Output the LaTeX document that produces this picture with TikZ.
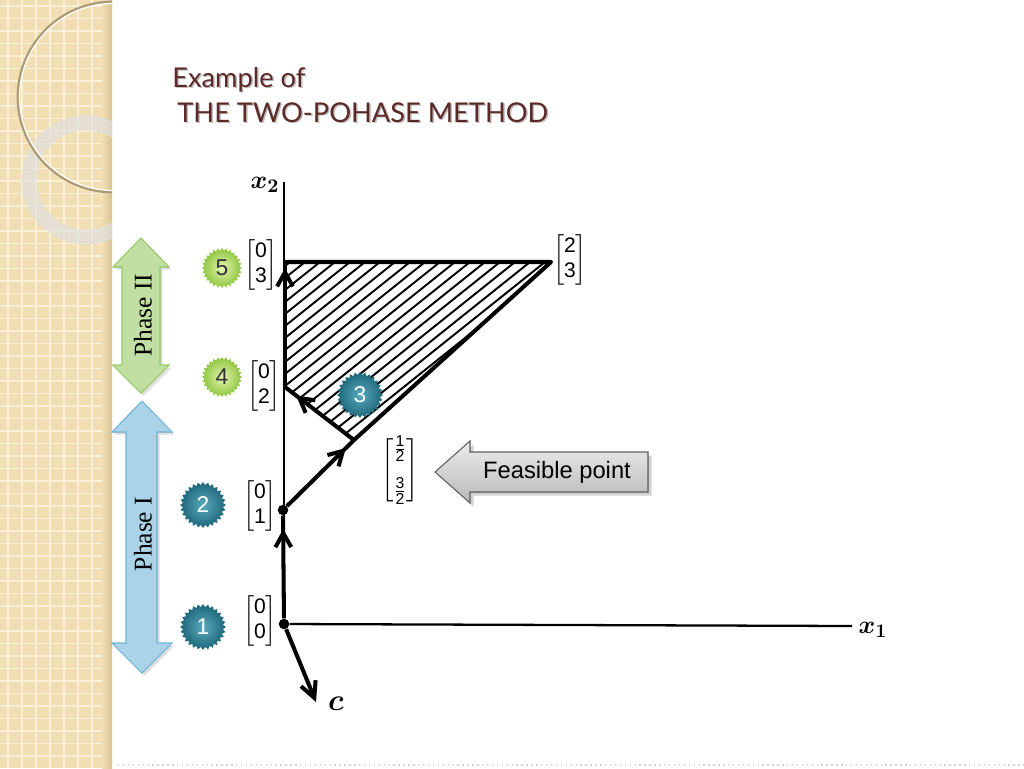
\documentclass[tikz,border=0pt]{standalone}
\usepackage{amsmath}
\usepackage{bm}
\usepackage{fontspec}
\newfontfamily\titlefont{Lato}
\newfontfamily\arialfont{Liberation Sans}
\newfontfamily\timesfont{Liberation Serif}
\usetikzlibrary{arrows.meta,shapes.geometric,decorations.markings,shadows}
\definecolor{panel}{HTML}{F1DEB3}
\definecolor{panelgrid}{HTML}{FAF0D8}
\definecolor{paneledge}{HTML}{D8C293}
\definecolor{titlebrown}{HTML}{5C2A26}
\definecolor{greenin}{HTML}{E6F5B0}
\definecolor{greenout}{HTML}{8CC43E}
\definecolor{tealin}{HTML}{5AAABD}
\definecolor{tealout}{HTML}{1C6678}
\definecolor{phasetwo}{HTML}{C8E9A2}
\definecolor{phasetwoedge}{HTML}{98C965}
\definecolor{phaseone}{HTML}{B9DFF3}
\definecolor{phaseoneedge}{HTML}{72B6D8}
\newcommand{\mdig}[1]{\text{\arialfont #1}}
\newcommand{\fdig}[1]{\mbox{\arialfont\fontsize{9pt}{10pt}\selectfont #1}}
\tikzset{
  vtx/.style={circle,fill=black,inner sep=0pt,minimum size=6pt},
  axis/.style={line width=1.3pt},
  walk/.style={line width=2.3pt},
  hatch/.style={line width=1.1pt},
  midarrow/.style={postaction={decorate},decoration={markings,
    mark=at position #1 with {\arrow{Straight Barb[length=8pt,width=9pt]}}}},
  vec/.style={inner sep=0pt,font=\fontsize{12pt}{14.4pt}\selectfont},
  badge/.style={star,star points=28,star point ratio=1.15,inner sep=0pt,
    font=\arialfont\fontsize{13pt}{15pt}\selectfont},
  greenbadge/.style={badge,minimum size=0.8cm,inner color=greenin,outer color=greenout,text=black!80},
  tealbadge/.style={badge,minimum size=0.92cm,inner color=tealin,outer color=tealout,text=white},
  phasetext/.style={rotate=90,font=\timesfont\fontsize{14.5pt}{17pt}\selectfont},
  titletext/.style={anchor=base west,inner sep=0pt,font=\titlefont\fontsize{15.5pt}{18pt}\selectfont}
}
\begin{document}
\begin{tikzpicture}[x=0.02cm,y=-0.02cm]
  \fill[white] (0,0) rectangle (1024,768);
  \useasboundingbox (0,0) rectangle (1024,768);
  \fill[panel] (0,0) rectangle (112,768);
  \foreach \x in {8,22,...,112}
    \draw[panelgrid,line width=1pt] (\x,0) -- (\x,768);
  \foreach \y in {6,18.5,...,768}
    \draw[panelgrid,line width=1pt] (0,\y) -- (112,\y);
  \fill[left color=panel,right color=paneledge] (102,0) rectangle (112,768);
  \begin{scope}
    \clip (0,0) rectangle (112,768);
    \draw[black!12,opacity=0.7,line width=8.5pt] (86,180) circle (57);
    \draw[paneledge!80!black,line width=1.6pt] (113,97) circle (95);
    \draw[white,line width=0.7pt] (113,97) circle (93.5);
  \end{scope}
  \draw[gray!35,dotted,line width=0.8pt] (118,765) -- (1024,765);

  \node[titletext,text=black!25] at (173.5,88.5) {Example of};
  \node[titletext,text=titlebrown] (title1) at (172,87) {Example of};
  \node[titletext,text=black!25] at (178.5,123.5) {THE TWO-POHASE METHOD};
  \node[titletext,text=titlebrown] (title2) at (177,122) {THE TWO-POHASE METHOD};

  \fill[left color=phasetwoedge!60,middle color=phasetwo!50,right color=phasetwoedge!60,
    drop shadow={opacity=0.25,shadow xshift=1.5pt,shadow yshift=-1.5pt}]
    (141,238) -- (113,267) -- (122,267) -- (122,365) -- (113,365) -- (141,393)
    -- (169,365) -- (160,365) -- (160,267) -- (169,267) -- cycle;
  \draw[phasetwoedge,line width=0.6pt]
    (141,238) -- (113,267) -- (122,267) -- (122,365) -- (113,365) -- (141,393)
    -- (169,365) -- (160,365) -- (160,267) -- (169,267) -- cycle;
  \node[phasetext] (phase2) at (143,315) {Phase II};
  \fill[left color=phaseoneedge!60,middle color=phaseone!50,right color=phaseoneedge!60,
    drop shadow={opacity=0.25,shadow xshift=1.5pt,shadow yshift=-1.5pt}]
    (142,401) -- (112,432) -- (126,432) -- (126,643) -- (112,643) -- (142,673)
    -- (172,643) -- (157,643) -- (157,432) -- (172,432) -- cycle;
  \draw[phaseoneedge,line width=0.6pt]
    (142,401) -- (112,432) -- (126,432) -- (126,643) -- (112,643) -- (142,673)
    -- (172,643) -- (157,643) -- (157,432) -- (172,432) -- cycle;
  \node[phasetext] (phase1) at (143,534) {Phase I};

  \draw
    (284,624) node[vtx] (o){}
    (283,510) node[vtx] (a){}
    (354,440) coordinate (b)
    (285,387) coordinate (c)
    (285,262) coordinate (d)
    (551,262) coordinate (e)
    (284,182) coordinate (x2end)
    (852,626) coordinate (x1end)
    (316,702) coordinate (cend);

  \begin{scope}
    \clip (d) -- (e) -- (b) -- (c) -- cycle;
    \foreach \k in {482,494,...,734}
      \draw[hatch] (250,\k-200) -- (600,\k-480);
  \end{scope}

  \draw[axis] (o) -- (x2end);
  \draw[axis] (o) -- (x1end);
  \begin{scope}[walk]
    \draw[midarrow=0.87] (o) -- (a);
    \draw[midarrow=0.88] (a) -- (b);
    \draw[midarrow=0.84] (b) -- (c);
    \draw[midarrow=0.95] (c) -- (d);
    \draw[line join=round] (d) -- (e) -- (b);
    \draw[-{Straight Barb[length=9pt,width=9pt]}] (o) -- (cend);
  \end{scope}

  \node (x2lab) at (265,185) {\fontsize{15pt}{17pt}\selectfont$\bm{x_2}$};
  \node (x1lab) at (873,630) {\fontsize{15pt}{17pt}\selectfont$\bm{x_1}$};
  \node (clab) at (336,704) {\fontsize{16pt}{18pt}\selectfont$\bm{c}$};

  \node[vec] (m00) at (260,621) {$\begin{bmatrix}\mdig0\\\mdig0\end{bmatrix}$};
  \node[vec] (m01) at (260,506) {$\begin{bmatrix}\mdig0\\\mdig1\end{bmatrix}$};
  \node[vec] (m02) at (264,386) {$\begin{bmatrix}\mdig0\\\mdig2\end{bmatrix}$};
  \node[vec] (m03) at (261,265) {$\begin{bmatrix}\mdig0\\\mdig3\end{bmatrix}$};
  \node[vec] (m23) at (570,260) {$\begin{bmatrix}\mdig2\\\mdig3\end{bmatrix}$};
  \node[vec] (mhalf) at (400,470) {$\begin{bmatrix}\frac{\fdig1}{\fdig2}\\[9pt]\frac{\fdig3}{\fdig2}\end{bmatrix}$};

  \node[greenbadge] (n5) at (222,268) {5};
  \node[greenbadge] (n4) at (222,377) {4};
  \node[tealbadge] (n3) at (360,395) {3};
  \node[tealbadge] (n2) at (203,505) {2};
  \node[tealbadge] (n1) at (203,627) {1};

  \fill[top color=gray!15,bottom color=gray!55,
    drop shadow={opacity=0.35,shadow xshift=2pt,shadow yshift=-2pt}]
    (435,472) -- (470,441) -- (470,452) -- (648,452) -- (648,492) -- (470,492) -- (470,503) -- cycle;
  \draw[gray!75!black,line width=0.6pt]
    (435,472) -- (470,441) -- (470,452) -- (648,452) -- (648,492) -- (470,492) -- (470,503) -- cycle;
  \node[font=\arialfont\fontsize{13.5pt}{16pt}\selectfont] (feas) at (557,472) {Feasible point};
\end{tikzpicture}
\end{document}
